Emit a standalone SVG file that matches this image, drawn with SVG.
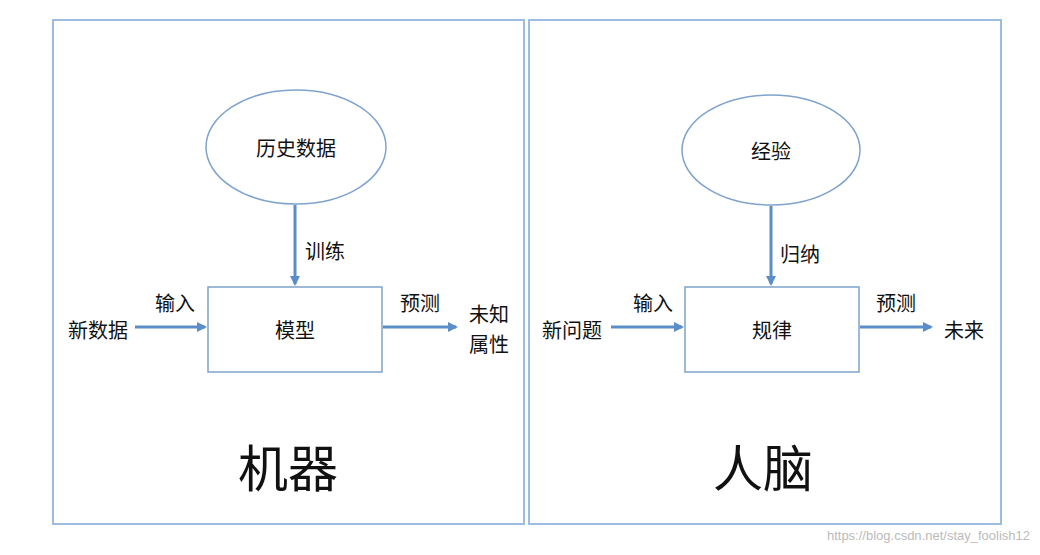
<svg xmlns="http://www.w3.org/2000/svg" width="1040" height="555" viewBox="0 0 1040 555">
<style>
.panel{fill:#fff;stroke:#9dbde0;stroke-width:2}
.node{fill:#fff;stroke:#7fa3cc;stroke-width:1.5}
.t{font-family:"Noto Sans CJK SC","Liberation Sans",sans-serif;font-size:20px;fill:#111;text-anchor:middle;dominant-baseline:central}
.big{font-size:50px}
.c{stroke:#5b8dc9;stroke-width:3;fill:none;marker-end:url(#a)}
</style>
<defs><marker id="a" markerWidth="10" markerHeight="10" refX="8" refY="5" orient="auto" markerUnits="userSpaceOnUse"><path d="M0,0 L10,5 L0,10 z" fill="#5b8dc9"/></marker></defs>
<rect width="1040" height="555" fill="#fff"/>
<g id="panel-left"><rect class="panel" x="53" y="20" width="471" height="504"/><text class="t big" x="288" y="465">机器</text></g>
<g id="panel-right"><rect class="panel" x="529" y="20" width="472" height="504"/><text class="t big" x="763" y="465">人脑</text></g>
<g id="n-hist"><ellipse class="node" cx="296" cy="147" rx="90" ry="57"/><text class="t" x="296" y="147">历史数据</text></g>
<g id="n-model"><rect class="node" x="208" y="287" width="174" height="85"/><text class="t" x="295" y="329">模型</text></g>
<g id="n-newdata"><text class="t" x="98" y="329">新数据</text></g>
<g id="n-unknown"><text class="t" x="489" y="313">未知</text><text class="t" x="489" y="343">属性</text></g>
<g id="n-exp"><ellipse class="node" cx="771" cy="150" rx="89" ry="55"/><text class="t" x="771" y="150">经验</text></g>
<g id="n-rule"><rect class="node" x="685" y="287" width="174" height="85"/><text class="t" x="772" y="329">规律</text></g>
<g id="n-newq"><text class="t" x="572" y="329">新问题</text></g>
<g id="n-future"><text class="t" x="964" y="329">未来</text></g>
<g id="connectors">
<path class="c" d="M295,205 V284"/><text class="t" x="325" y="250">训练</text>
<path class="c" d="M135,327 H205"/><text class="t" x="175" y="302">输入</text>
<path class="c" d="M383,327 H456"/><text class="t" x="420" y="302">预测</text>
<path class="c" d="M771,206 V284"/><text class="t" x="800" y="253">归纳</text>
<path class="c" d="M611,327 H682"/><text class="t" x="653" y="302">输入</text>
<path class="c" d="M860,327 H931"/><text class="t" x="896" y="302">预测</text>
</g>
<text x="1030" y="540" font-family="Liberation Sans,sans-serif" font-size="13" fill="#bbb" text-anchor="end">https://blog.csdn.net/stay_foolish12</text>
</svg>
